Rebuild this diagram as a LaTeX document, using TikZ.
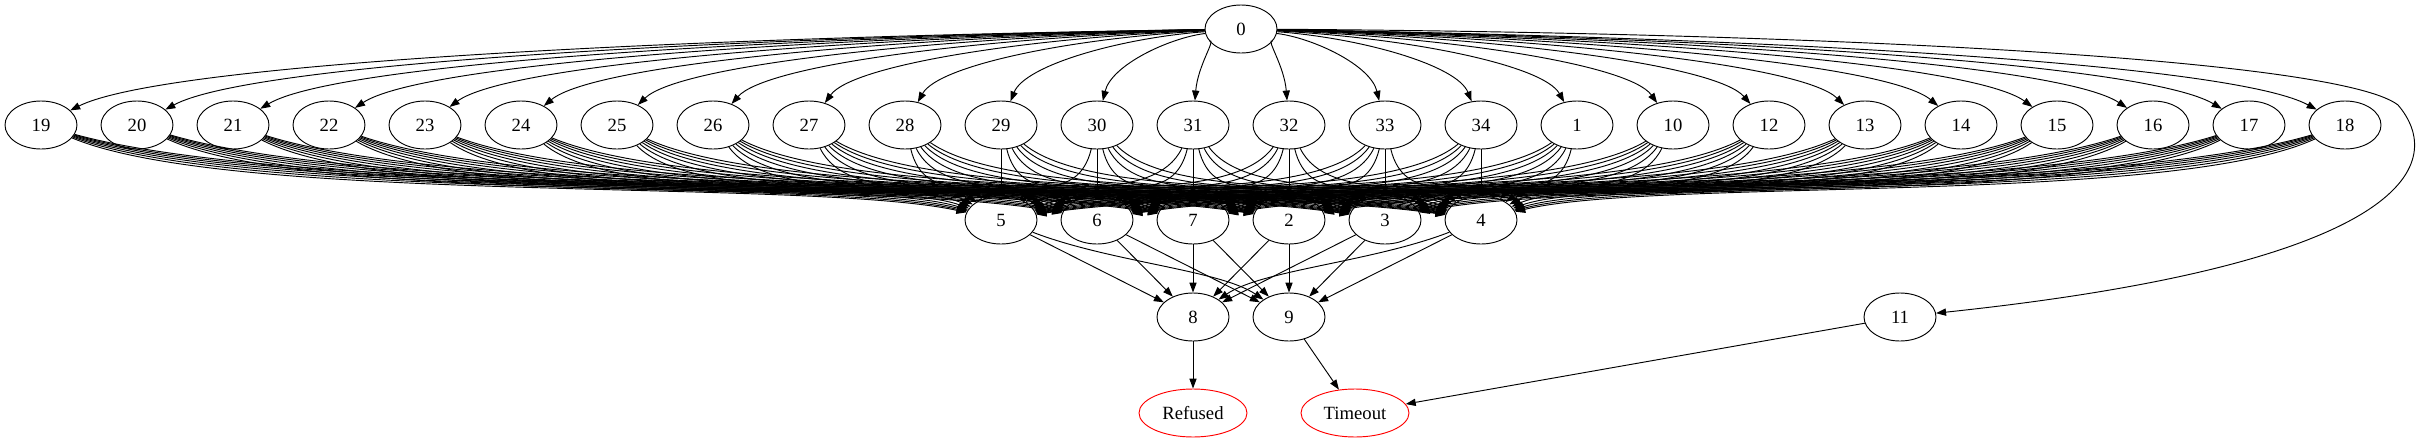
\documentclass[tikz,border=0pt]{standalone}
\usepackage{fontspec}
\setmainfont{Liberation Serif}
\usetikzlibrary{arrows.meta}
\usetikzlibrary{calc}
\usetikzlibrary{shapes.geometric}

\begin{document}
\begin{tikzpicture}[x=0.75pt, y=-0.75pt, line width=0.7pt,
	>={Triangle[length=7.5pt, width=5.4pt]},
	state/.style={draw, ellipse, inner sep=0pt, minimum width=54pt, minimum height=36pt, font=\fontsize{14}{16}\selectfont},
	outcome/.style={state, draw=red, minimum width=81pt}]
	\useasboundingbox (0,0) rectangle (2425,443);

	% top
	\node[state] (n0) at (1241, 29) {0};

	% first row
	\foreach \lab [count=\i from 0] in {19,20,21,22,23,24,25,26,27,28,29,30,31,32,33,34,1,10,12,13,14,15,16,17,18}
		\node[state] (n\lab) at (41+96*\i, 125) {\lab};

	% second row
	\foreach \lab/\x in {5/1001, 6/1097, 7/1193, 2/1289, 3/1385, 4/1481}
		\node[state] (n\lab) at (\x, 220) {\lab};

	\node[state] (n8) at (1193, 317) {8};
	\node[state] (n9) at (1289, 317) {9};
	\node[state] (n11) at (1900, 317) {11};

	\node[outcome] (refused) at (1193, 413) {Refused};
	\node[outcome] (timeout) at (1355, 413) {Timeout};

	% from 0 to the first row
	\foreach \lab [count=\i from 0] in {19,20,21,22,23,24,25,26,27,28,29,30,31,32,33,34,1,10,12,13,14,15,16,17,18} {
		\pgfmathsetmacro{\tx}{41+96*\i}
		\pgfmathsetmacro{\ca}{1241+0.5*(\tx-1241)}
		\pgfmathsetmacro{\cb}{\tx-0.1*(\tx-1241)}
		\draw[->] (n0) .. controls (\ca, 38) and (\cb, 65) .. (n\lab);
	}

	\coordinate (bendR) at (2398, 105);
	\draw[->] (n0) .. controls (1850, 33) and (2340, 60) .. (bendR) .. controls (2445, 160) and (2420, 262) .. (n11);

	% first row to second row
	\foreach \src [count=\i from 0] in {19,20,21,22,23,24,25,26,27,28,29,30,31,32,33,34,1,10,12,13,14,15,16,17,18} {
		\pgfmathsetmacro{\sx}{41+96*\i}
		\foreach \dst/\tx in {5/1001, 6/1097, 7/1193, 2/1289, 3/1385, 4/1481} {
			\pgfmathsetmacro{\ca}{\sx+0.2*(\tx-\sx)}
			\pgfmathsetmacro{\cb}{\tx-0.2*(\tx-\sx)}
			\draw[->] (n\src) .. controls (\ca, 205) and (\cb, 178) .. (n\dst);
		}
	}

	% second row to third row
	\draw[->] (n5) -- (n8);
	\draw[->] (n5) .. controls (1110, 262) and (1220, 270) .. (n9);
	\draw[->] (n6) -- (n8);
	\draw[->] (n6) -- (n9);
	\draw[->] (n7) -- (n8);
	\draw[->] (n7) -- (n9);
	\draw[->] (n2) -- (n8);
	\draw[->] (n2) -- (n9);
	\draw[->] (n3) -- (n8);
	\draw[->] (n3) -- (n9);
	\draw[->] (n4) .. controls (1372, 262) and (1262, 270) .. (n8);
	\draw[->] (n4) -- (n9);

	% outcomes
	\draw[->] (n8) -- (refused);
	\draw[->] (n9) -- (timeout);
	\draw[->] (n11) -- (timeout);
\end{tikzpicture}
\end{document}
